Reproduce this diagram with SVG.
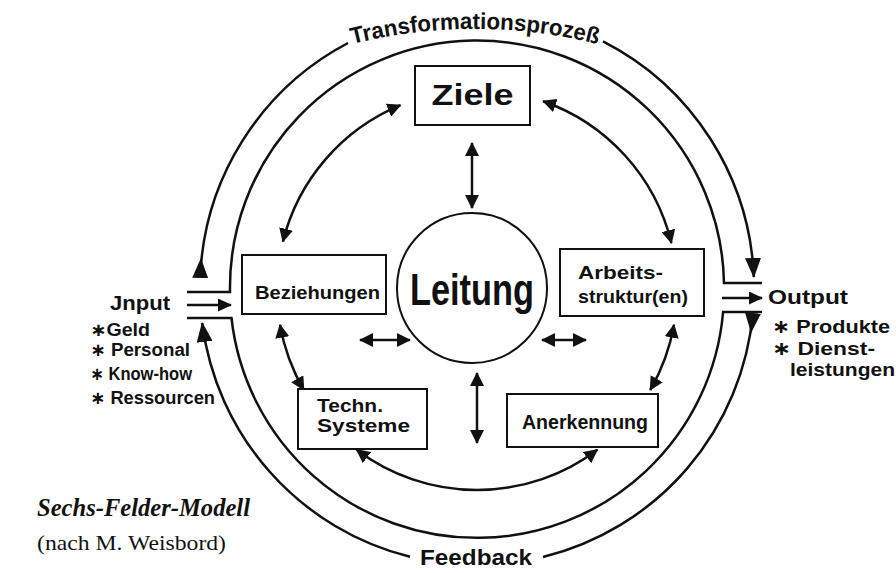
<svg xmlns="http://www.w3.org/2000/svg" width="896" height="573" viewBox="0 0 896 573">
<style>
.hw{font-family:"Liberation Sans","DejaVu Sans",sans-serif;font-weight:bold;fill:#111;}
.box{fill:#fff;stroke:#111;stroke-width:2;}
.ln{fill:none;stroke:#111;stroke-width:2.5;}
.serif{font-family:"Liberation Serif","Times New Roman",serif;fill:#111;}
</style>
<defs>
<marker id="hd" viewBox="0 0 14 14" markerWidth="14" markerHeight="14" refX="13" refY="7" orient="auto-start-reverse" markerUnits="userSpaceOnUse"><path d="M0,0 L14,7 L0,14 z" fill="#111"/></marker>
<marker id="big" viewBox="0 0 20 16" markerWidth="20" markerHeight="16" refX="19" refY="8" orient="auto" markerUnits="userSpaceOnUse"><path d="M0,0 L20,8 L0,16 z" fill="#111"/></marker>
<marker id="bigf" viewBox="0 0 20 16" markerWidth="20" markerHeight="16" refX="0" refY="8" orient="auto" markerUnits="userSpaceOnUse"><path d="M0,0 L20,8 L0,16 z" fill="#111"/></marker>
<marker id="io" viewBox="0 0 14 13" markerWidth="14" markerHeight="13" refX="13" refY="6.5" orient="auto" markerUnits="userSpaceOnUse"><path d="M0,0 L14,6.5 L0,13 z" fill="#111"/></marker>
<path id="tpPath" d="M 345 46 A 504 504 0 0 1 605 46"/>
</defs>
<rect width="896" height="573" fill="#fff"/>

<g id="connectors">
  <path class="ln" d="M 200.2 278 A 277 277 0 0 1 348 43" marker-start="url(#bigf)"/>
  <path class="ln" d="M 603 41.3 A 277 277 0 0 1 753.8 277" marker-end="url(#big)"/>
  <path class="ln" d="M 752.9 313 A 277 277 0 0 1 543 557" marker-start="url(#bigf)"/>
  <path class="ln" d="M 410 556.8 A 277 277 0 0 1 202.2 323" marker-end="url(#big)"/>
  <path class="ln" d="M 187 292 L 230 292 A 247 247 0 0 1 724 283 L 762 283"/>
  <path class="ln" d="M 187 318 L 231.5 318 A 247 247 0 0 0 723.1 312 L 762 312"/>
  <path class="ln" d="M 187 305 L 231 305" marker-end="url(#io)"/>
  <path class="ln" d="M 722 298 L 762 298" marker-end="url(#io)"/>
  <path class="ln" d="M 282.9 241.6 A 200 200 0 0 1 400.5 105.2" marker-start="url(#hd)" marker-end="url(#hd)"/>
  <path class="ln" d="M 543.1 101.2 A 200 200 0 0 1 671.4 243" marker-start="url(#hd)" marker-end="url(#hd)"/>
  <path class="ln" d="M 303.8 390 A 200 200 0 0 1 280 324.7" marker-start="url(#hd)" marker-end="url(#hd)"/>
  <path class="ln" d="M 674 324.7 A 200 200 0 0 1 650.2 390" marker-start="url(#hd)" marker-end="url(#hd)"/>
  <path class="ln" d="M 597.4 449.7 A 200 200 0 0 1 356.6 449.7" marker-start="url(#hd)" marker-end="url(#hd)"/>
  <path class="ln" d="M 472 143 L 472 208" marker-start="url(#hd)" marker-end="url(#hd)"/>
  <path class="ln" d="M 477 373 L 477 443" marker-start="url(#hd)" marker-end="url(#hd)"/>
  <path class="ln" d="M 360 340 L 410 340" marker-start="url(#hd)" marker-end="url(#hd)"/>
  <path class="ln" d="M 542 340 L 586 340" marker-start="url(#hd)" marker-end="url(#hd)"/>
</g>

<g id="label-transformationsprozess">
  <text class="hw" font-size="23"><textPath href="#tpPath" startOffset="50%" text-anchor="middle" textLength="248" lengthAdjust="spacingAndGlyphs">Transformationsprozeß</textPath></text>
</g>
<g id="label-feedback">
  <text class="hw" x="476" y="565" font-size="22" text-anchor="middle" textLength="112" lengthAdjust="spacingAndGlyphs">Feedback</text>
</g>

<g id="ziele">
  <rect class="box" x="415" y="66" width="115" height="59"/>
  <text class="hw" x="472.5" y="105" font-size="30" text-anchor="middle" textLength="82" lengthAdjust="spacingAndGlyphs">Ziele</text>
</g>
<g id="beziehungen">
  <rect class="box" x="242" y="255" width="144" height="59"/>
  <text class="hw" x="317.5" y="299" font-size="19" text-anchor="middle" textLength="125" lengthAdjust="spacingAndGlyphs">Beziehungen</text>
</g>
<g id="leitung">
  <circle cx="472" cy="288" r="75" fill="#fff" stroke="#111" stroke-width="2"/>
  <text class="hw" x="472" y="305" font-size="44" font-weight="normal" text-anchor="middle" textLength="124" lengthAdjust="spacingAndGlyphs">Leitung</text>
</g>
<g id="arbeitsstruktur">
  <rect class="box" x="560" y="249" width="144" height="67"/>
  <text class="hw" x="578" y="279" font-size="19" textLength="85" lengthAdjust="spacingAndGlyphs">Arbeits-</text>
  <text class="hw" x="578" y="303" font-size="19" textLength="110" lengthAdjust="spacingAndGlyphs">struktur(en)</text>
</g>
<g id="techn-systeme">
  <rect class="box" x="298" y="389" width="129" height="60"/>
  <text class="hw" x="317" y="412" font-size="19" textLength="66" lengthAdjust="spacingAndGlyphs">Techn.</text>
  <text class="hw" x="317" y="432" font-size="19" textLength="93" lengthAdjust="spacingAndGlyphs">Systeme</text>
</g>
<g id="anerkennung">
  <rect class="box" x="507" y="394" width="151" height="53"/>
  <text class="hw" x="585" y="429" font-size="20" text-anchor="middle" textLength="126" lengthAdjust="spacingAndGlyphs">Anerkennung</text>
</g>

<g id="input">
  <text class="hw" x="110" y="310" font-size="20" textLength="60" lengthAdjust="spacingAndGlyphs">Jnput</text>
  <text class="hw" x="90" y="336" font-size="18" textLength="60" lengthAdjust="spacingAndGlyphs">∗Geld</text>
  <text class="hw" x="90" y="356" font-size="18" textLength="100" lengthAdjust="spacingAndGlyphs">∗ Personal</text>
  <text class="hw" x="90" y="380" font-size="18" textLength="102" lengthAdjust="spacingAndGlyphs">∗ Know-how</text>
  <text class="hw" x="90" y="404" font-size="18" textLength="125" lengthAdjust="spacingAndGlyphs">∗ Ressourcen</text>
</g>
<g id="output">
  <text class="hw" x="768" y="304" font-size="20" textLength="80" lengthAdjust="spacingAndGlyphs">Output</text>
  <text class="hw" x="772" y="333" font-size="19" textLength="118" lengthAdjust="spacingAndGlyphs">∗ Produkte</text>
  <text class="hw" x="772" y="355" font-size="19" textLength="103" lengthAdjust="spacingAndGlyphs">∗ Dienst-</text>
  <text class="hw" x="790" y="376" font-size="19" textLength="105" lengthAdjust="spacingAndGlyphs">leistungen</text>
</g>

<g id="title">
  <text class="serif" x="37" y="516" font-size="25" font-weight="bold" font-style="italic" textLength="213" lengthAdjust="spacingAndGlyphs">Sechs-Felder-Modell</text>
  <text class="serif" x="37" y="550" font-size="21" textLength="189" lengthAdjust="spacingAndGlyphs">(nach M. Weisbord)</text>
</g>
</svg>
